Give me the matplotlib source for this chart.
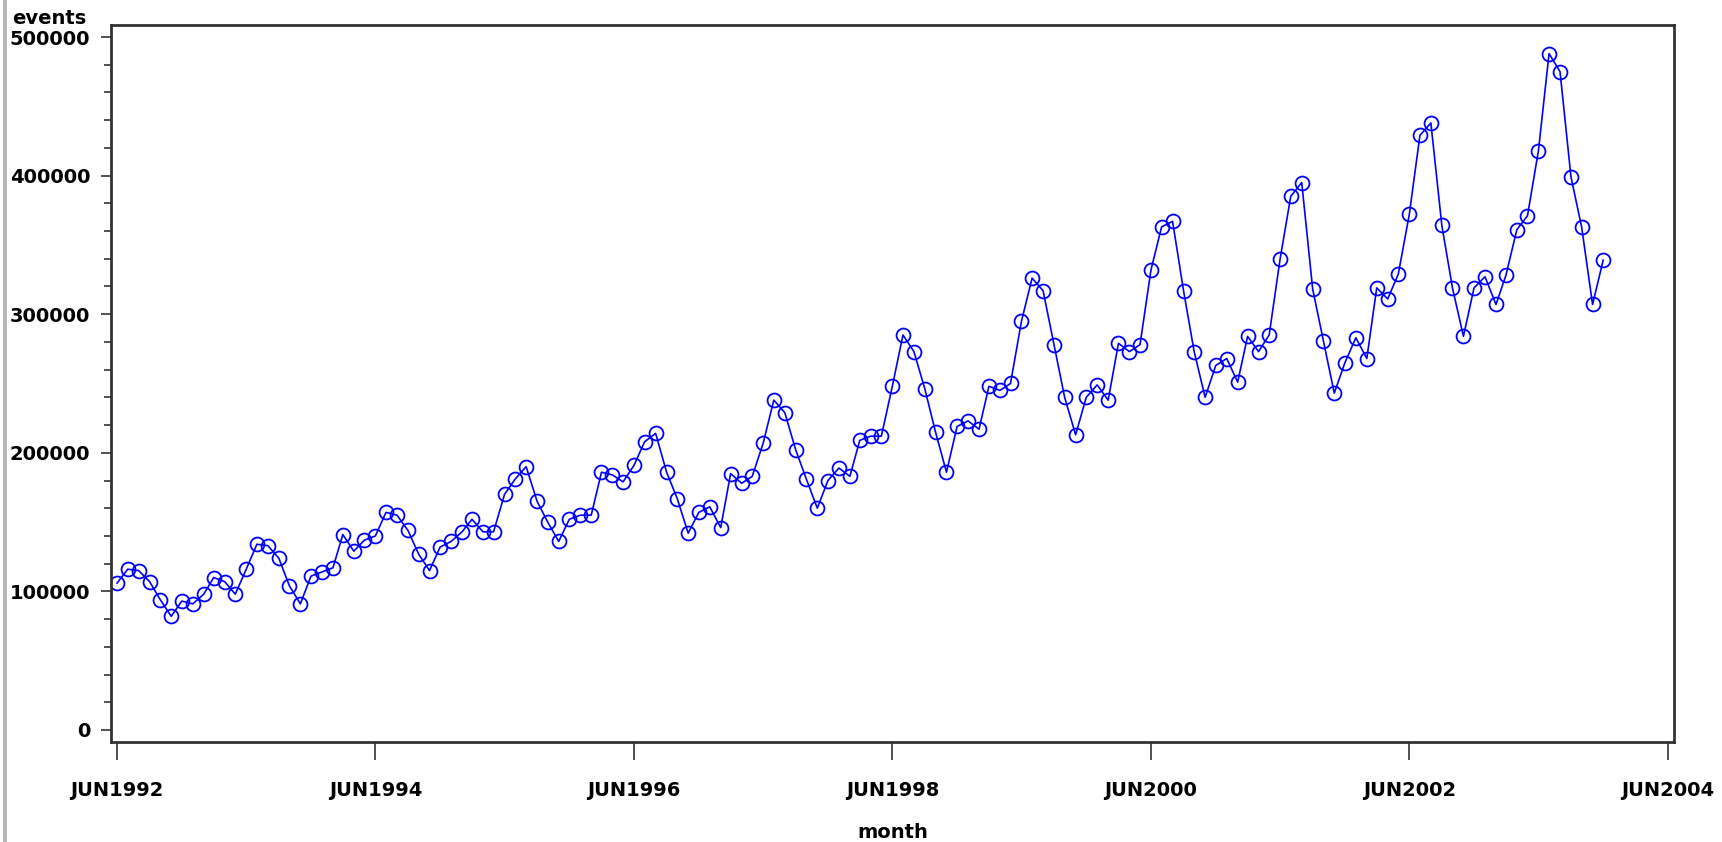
import matplotlib
matplotlib.use("Agg")
import matplotlib.pyplot as plt
import matplotlib.dates as mdates
from matplotlib.patches import Rectangle
from matplotlib.ticker import MultipleLocator
import pandas as pd

# monthly event counts, JUN1992 .. DEC2003
first_month = "1992-06-01"
events = [
    106000, 116000, 115000, 107000, 94000, 82000, 93000, 91000, 98000, 110000,
    107000, 98000, 116000, 134000, 133000, 124000, 104000, 91000, 111000, 114000,
    117000, 141000, 129000, 137000, 140000, 157000, 155000, 144000, 127000, 115000,
    132000, 136000, 143000, 152000, 143000, 143000, 170000, 181000, 190000, 165000,
    150000, 136000, 152000, 155000, 155000, 186000, 184000, 179000, 191000, 208000,
    214000, 186000, 167000, 142000, 157000, 161000, 146000, 185000, 178000, 183000,
    207000, 238000, 229000, 202000, 181000, 160000, 180000, 189000, 183000, 209000,
    212000, 212000, 248000, 285000, 273000, 246000, 215000, 186000, 219000, 223000,
    217000, 248000, 245000, 250000, 295000, 326000, 317000, 278000, 240000, 213000,
    240000, 249000, 238000, 279000, 273000, 278000, 332000, 363000, 367000, 317000,
    273000, 240000, 263000, 268000, 251000, 284000, 273000, 285000, 340000, 385000,
    395000, 318000, 281000, 243000, 265000, 283000, 268000, 319000, 311000, 329000,
    372000, 429000, 438000, 364000, 319000, 284000, 319000, 327000, 307000, 328000,
    361000, 371000, 418000, 488000, 475000, 399000, 363000, 307000, 339000,
]
tick_months = pd.date_range("1992-06-01", "2004-06-01", freq="24MS")
y_ticks = [0, 100000, 200000, 300000, 400000, 500000]

months = pd.date_range(first_month, periods=len(events), freq="MS")

fig = plt.figure(figsize=(17.22, 8.42), dpi=100)
ax = fig.add_axes([0.0645, 0.1188, 0.9076, 0.8515])

ax.plot(months, events, color="#0000ff", lw=1.2, marker="o", ms=10,
        mfc="none", mec="#0000ff", mew=1.3)

ax.set_ylim(-8660, 508660)
ax.set_xlim(pd.Timestamp("1992-05-15"), pd.Timestamp("2004-06-18"))
ax.set_yticks(y_ticks)
ax.yaxis.set_minor_locator(MultipleLocator(20000))
ax.set_yticklabels([str(v) for v in y_ticks])
ax.set_xticks(tick_months)
ax.xaxis.set_major_formatter(mdates.DateFormatter("%b%Y"))
ax.set_xticklabels([d.strftime("%b%Y").upper() for d in tick_months])

for lab in ax.get_xticklabels() + ax.get_yticklabels():
    lab.set_fontweight("bold")
    lab.set_fontsize(14)
    lab.set_fontfamily("DejaVu Sans")

ax.tick_params(axis="y", which="major", length=7, width=1.2, pad=8, color="#333333")
ax.tick_params(axis="y", which="minor", length=5, width=1.2, color="#333333")
ax.tick_params(axis="x", which="major", length=13, width=1.2, pad=15, color="#333333")
for sp in ax.spines.values():
    sp.set_color("#333333")
    sp.set_linewidth(2)

fig.text(12 / 1722, 1 - 19 / 842, "events", fontsize=14, fontweight="bold",
         ha="left", va="center")
fig.text(0.5182, 1 - 833 / 842, "month", fontsize=14, fontweight="bold",
         ha="center", va="center")

# window border strip on the left
fig.add_artist(Rectangle((0.0015, 0), 0.0025, 1, transform=fig.transFigure,
                         facecolor="#b8b8b8", edgecolor="none"))

fig.savefig("out.png", dpi=100)
